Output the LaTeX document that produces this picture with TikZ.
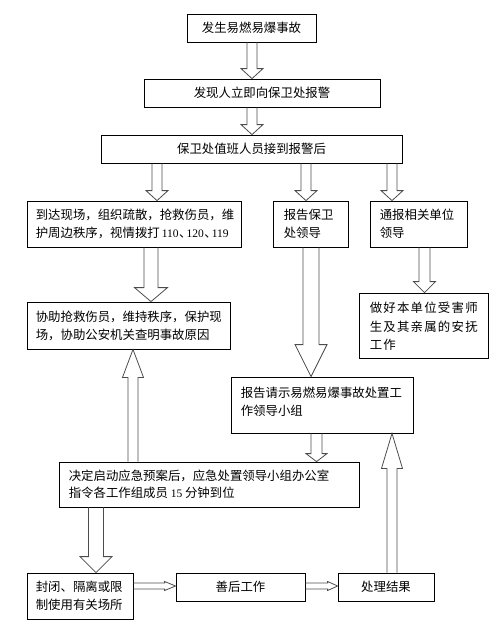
\documentclass[tikz,border=0pt]{standalone}
\usepackage{fontspec}
\setmainfont{Noto Sans CJK SC}
\newfontfamily\tnr{Liberation Serif}
\newfontfamily\cjkls[LetterSpace=10]{Noto Sans CJK SC}
\usetikzlibrary{calc}
\newcommand\numf[1]{{\tnr\fontsize{11.5}{18}\selectfont #1}}
\newcommand\dunhao{\makebox[8pt][l]{\hspace{0.5pt}、}}
\tikzset{
  bx/.style={draw=black, line width=0.8pt, inner sep=0pt, font=\fontsize{12.4}{18}\selectfont},
  txt/.style={inner sep=0pt, align=left, anchor=west, font=\fontsize{12.4}{18}\selectfont},
  blk/.style={draw=black!70, line width=0.8pt, line join=miter}
}
% vertical block arrow: #1 x, #2 start, #3 tip, #4 shaft width, #5 head width, #6 head length
\newcommand\vblk[6]{%
  \draw[blk] let \p1=(#2), \p2=(#3), \n1={sign(\y2-\y1)*#6} in
    ({#1pt-#4pt/2},\y1) -- ({#1pt-#4pt/2},{\y2-\n1*1pt}) -- ({#1pt-#5pt/2},{\y2-\n1*1pt})
    -- ({#1pt},\y2) -- ({#1pt+#5pt/2},{\y2-\n1*1pt}) -- ({#1pt+#4pt/2},{\y2-\n1*1pt})
    -- ({#1pt+#4pt/2},\y1);}
% horizontal block arrow: #1 y
\newcommand\hblk[6]{%
  \draw[blk] let \p1=(#2), \p2=(#3), \n1={sign(\x2-\x1)*#6} in
    (\x1,{-#1pt+#4pt/2}) -- ({\x2-\n1*1pt},{-#1pt+#4pt/2}) -- ({\x2-\n1*1pt},{-#1pt+#5pt/2})
    -- (\x2,{-#1pt}) -- ({\x2-\n1*1pt},{-#1pt-#5pt/2}) -- ({\x2-\n1*1pt},{-#1pt-#4pt/2})
    -- (\x1,{-#1pt-#4pt/2});}
\begin{document}
\begin{tikzpicture}[x=1pt,y=-1pt]
\useasboundingbox (0,0) rectangle (500,627);
% boxes
\node[bx, minimum width=129pt, minimum height=28pt] (b1) at (251.5,28) {发生易燃易爆事故};
\node[bx, minimum width=236pt, minimum height=28pt] (b2) at (262,93) {发现人立即向保卫处报警};
\node[bx, minimum width=301pt, minimum height=28pt] (b3) at (251.5,149) {保卫处值班人员接到报警后};
\node[bx, minimum width=214pt, minimum height=46pt] (b4) at (134,224) {};
\node[bx, minimum width=75pt, minimum height=46pt] (b5) at (310.5,224) {};
\node[bx, minimum width=97pt, minimum height=46pt] (b6) at (418.5,224) {};
\node[bx, minimum width=203pt, minimum height=47pt] (b7) at (128.5,325.5) {};
\node[bx, minimum width=182pt, minimum height=56pt] (b8) at (322,405) {};
\node[bx, minimum width=129pt, minimum height=65pt] (b9) at (423.5,325.5) {};
\node[bx, minimum width=300pt, minimum height=45pt] (b10) at (209,484.5) {};
\node[bx, minimum width=106pt, minimum height=46pt] (b11) at (80,596) {};
\node[bx, minimum width=129pt, minimum height=28pt] (b12) at (240.5,587) {善后工作};
\node[bx, minimum width=96pt, minimum height=28pt] (b13) at (386,587) {处理结果};
% texts
\node[txt] (t4) at ($(b4.west)+(9,0)$) {到达现场，组织疏散，抢救伤员，维\\护周边秩序，视情拨打\hspace{2pt}\numf{110}\dunhao\numf{120}\dunhao\numf{119}};
\node[txt] (t5) at ($(b5.west)+(11,0)$) {报告保卫\\处领导};
\node[txt] (t6) at ($(b6.west)+(10,0)$) {通报相关单位\\领导};
\node[txt] (t7) at ($(b7.west)+(9,0)$) {协助抢救伤员，维持秩序，保护现\\场，协助公安机关查明事故原因};
\node[txt] (t8) at ($(b8.west)+(10,-3)$) {报告请示易燃易爆事故处置工\\作领导小组};
\node[txt, font=\cjkls\fontsize{12.4}{18.5}\selectfont] (t9) at ($(b9.west)+(11,1)$) {做好本单位受害师\\生及其亲属的安抚\\工作};
\node[txt, font=\fontsize{12.4}{17.5}\selectfont] (t10) at ($(b10.west)+(10,0)$) {决定启动应急预案后，应急处置领导小组办公室\\指令各工作组成员 \numf{15} 分钟到位};
\node[txt] (t11) at ($(b11.west)+(9,0)$) {封闭、隔离或限\\制使用有关场所};
% arrows
\vblk{252}{b1.south}{b2.north}{10}{22}{10}
\vblk{252}{b2.south}{b3.north}{10}{22}{10}
\vblk{157}{b3.south}{b4.north}{10}{22}{10}
\vblk{306}{b3.south}{b5.north}{10}{22}{10}
\vblk{392}{b3.south}{b6.north}{10}{22}{10}
\vblk{151}{b4.south}{b7.north}{14}{33}{14}
\vblk{311}{b5.south}{b8.north}{16}{32}{32}
\vblk{424.5}{b6.south}{b9.north}{11}{22}{11}
\vblk{133}{b10.north}{b7.south}{10}{21}{28}
\vblk{316.5}{b8.south}{b10.north}{11}{21}{8}
\vblk{96}{b10.south}{b11.north}{15}{32}{16}
\vblk{392}{b13.north}{b8.south}{10}{21}{35}
\hblk{586}{b11.east}{b12.west}{6}{9}{11}
\hblk{586}{b12.east}{b13.west}{6}{9}{10}
\end{tikzpicture}
\end{document}
